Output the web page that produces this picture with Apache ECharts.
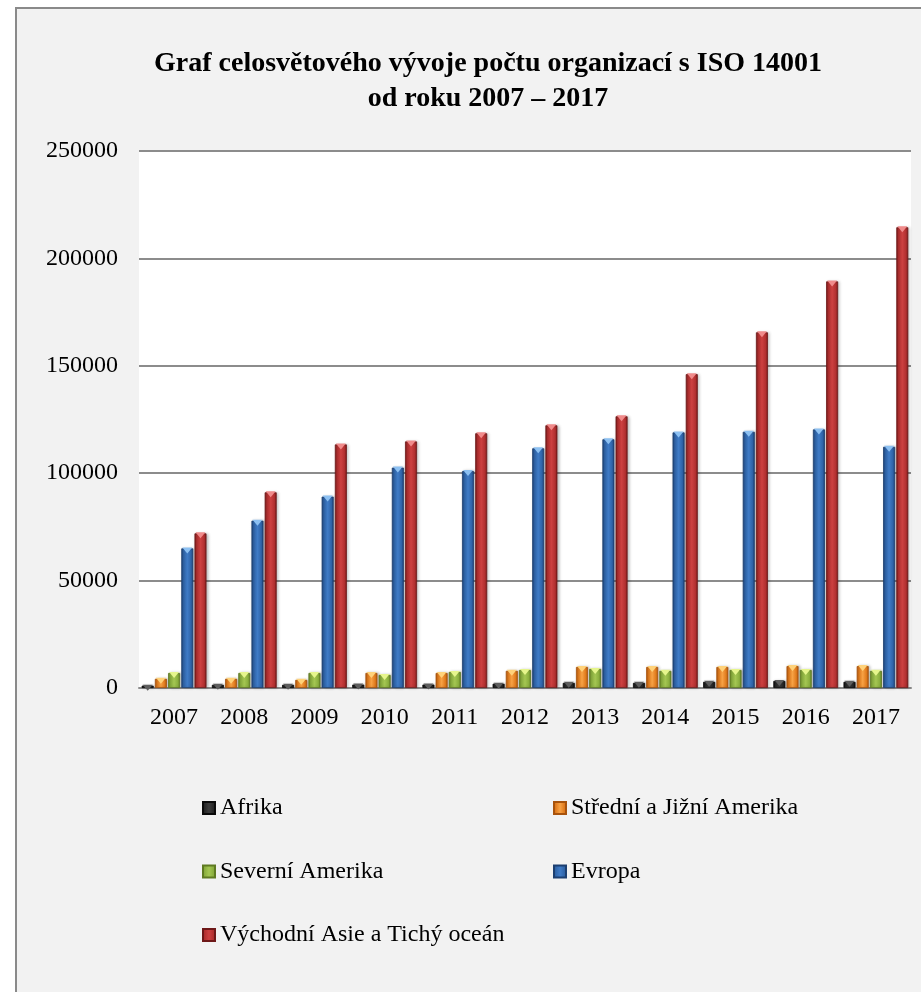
<!DOCTYPE html>
<html>
<head>
<meta charset="utf-8">
<script src="https://cdn.jsdelivr.net/npm/echarts@6/dist/echarts.min.js"></script>
<style>
  html, body { margin: 0; padding: 0; background: #ffffff; }
  #chart { width: 921px; height: 992px; }
</style>
</head>
<body>
<div id="chart"></div>
<script>
// Počet organizací s certifikací ISO 14001 podle regionů
const years = ['2007', '2008', '2009', '2010', '2011', '2012', '2013', '2014', '2015', '2016', '2017'];
const afrika = [1100, 1500, 1500, 1600, 1600, 2000, 2400, 2400, 2900, 3300, 2900];
const stredniJizniAmerika = [4300, 4300, 3800, 7000, 7000, 8000, 9800, 9800, 9800, 10200, 10200];
const severniAmerika = [7000, 7000, 7000, 6100, 7500, 8400, 8900, 8000, 8400, 8400, 8000];
const evropa = [65000, 77900, 89100, 102600, 101000, 111600, 115800, 119000, 119300, 120400, 112300];
const vychodniAsie = [72000, 91100, 113400, 114800, 118600, 122300, 126500, 146100, 165600, 189300, 214500];

const seriesNames = ['Afrika', 'Střední a Jižní Amerika', 'Severní Amerika', 'Evropa', 'Východní Asie a Tichý oceán'];
const seriesValues = [afrika, stredniJizniAmerika, severniAmerika, evropa, vychodniAsie];

// bevelled look: dark edges, light centre, lighter notch on top
const palette = [
  { edge: '#0a0a0a', mid: '#262626', light: '#3c3c3c', notch: '#5e5e5e' },
  { edge: '#a8530c', mid: '#e07a1c', light: '#f7a245', notch: '#ffd27a' },
  { edge: '#5f7a22', mid: '#8aae3e', light: '#a4c652', notch: '#e6f58c' },
  { edge: '#1c3f70', mid: '#2f64a8', light: '#3f7bc6', notch: '#8cc0f2' },
  { edge: '#6e1818', mid: '#b12f2f', light: '#cc4040', notch: '#f08a8a' }
];

function barGradient(p) {
  return new echarts.graphic.LinearGradient(0, 0, 1, 0, [
    { offset: 0, color: p.edge },
    { offset: 0.18, color: p.mid },
    { offset: 0.5, color: p.light },
    { offset: 0.82, color: p.mid },
    { offset: 1, color: p.edge }
  ]);
}

const FONT = "'Liberation Serif', 'Times New Roman', serif";
const BAR_W = 12;
const BAR_GAP = '10%';

const barSeries = seriesNames.map((name, i) => ({
  name: name,
  type: 'bar',
  data: seriesValues[i],
  barWidth: BAR_W,
  barGap: BAR_GAP,
  itemStyle: {
    color: barGradient(palette[i]),
    borderColor: palette[i].edge,
    borderWidth: 0.8,
    shadowColor: 'rgba(0,0,0,0.25)',
    shadowBlur: 3,
    shadowOffsetX: 1.5
  },
  z: 2
}));

const notchSeries = seriesNames.map((name, i) => ({
  name: name,
  type: 'pictorialBar',
  data: seriesValues[i],
  barWidth: BAR_W,
  barGap: BAR_GAP,
  symbol: 'triangle',
  symbolRotate: 180,
  symbolSize: [BAR_W - 2, 6],
  symbolPosition: 'end',
  symbolOffset: [0, -1],
  itemStyle: { color: palette[i].notch },
  silent: true,
  z: 3
}));

const chart = echarts.init(document.getElementById('chart'), null, { renderer: 'canvas' });

chart.setOption({
  backgroundColor: '#ffffff',
  animation: false,
  graphic: [{
    type: 'rect',
    z: -10,
    silent: true,
    shape: { x: 16, y: 8, width: 1000, height: 1100 },
    style: { fill: '#f2f2f2', stroke: '#8a8a8a', lineWidth: 2 }
  }],
  title: {
    text: 'Graf celosvětového vývoje počtu organizací s ISO 14001\nod roku 2007 – 2017',
    left: 488,
    top: 46,
    textAlign: 'center',
    padding: 0,
    textStyle: {
      fontFamily: FONT,
      fontWeight: 'bold',
      fontSize: 28,
      lineHeight: 35,
      color: '#000000'
    }
  },
  legend: [
    {
      orient: 'vertical',
      left: 202,
      top: 795,
      padding: 0,
      itemWidth: 12,
      itemHeight: 12,
      itemGap: 37.5,
      icon: 'rect',
      data: ['Afrika', 'Severní Amerika', 'Východní Asie a Tichý oceán'],
      textStyle: { fontFamily: FONT, fontSize: 24, lineHeight: 26, color: '#000000' }
    },
    {
      orient: 'vertical',
      left: 553,
      top: 795,
      padding: 0,
      itemWidth: 12,
      itemHeight: 12,
      itemGap: 37.5,
      icon: 'rect',
      data: ['Střední a Jižní Amerika', 'Evropa'],
      textStyle: { fontFamily: FONT, fontSize: 24, lineHeight: 26, color: '#000000' }
    }
  ],
  grid: {
    left: 139,
    right: 10,
    top: 151,
    bottom: 304,
    show: true,
    backgroundColor: '#ffffff',
    borderWidth: 0,
    containLabel: false
  },
  xAxis: {
    type: 'category',
    data: years,
    axisTick: { show: false },
    axisLine: { show: true, lineStyle: { color: '#8c8c8c', width: 2 } },
    axisLabel: { fontFamily: FONT, fontSize: 24, color: '#000000', margin: 18 },
    splitLine: { show: false }
  },
  yAxis: {
    type: 'value',
    min: 0,
    max: 250000,
    interval: 50000,
    axisLine: { show: false },
    axisTick: { show: false },
    axisLabel: {
      fontFamily: FONT, fontSize: 24, color: '#000000', margin: 21,
      formatter: (v) => String(v)
    },
    splitLine: { show: true, lineStyle: { color: '#8c8c8c', width: 2 } }
  },
  series: barSeries.concat(notchSeries)
});
</script>
</body>
</html>
